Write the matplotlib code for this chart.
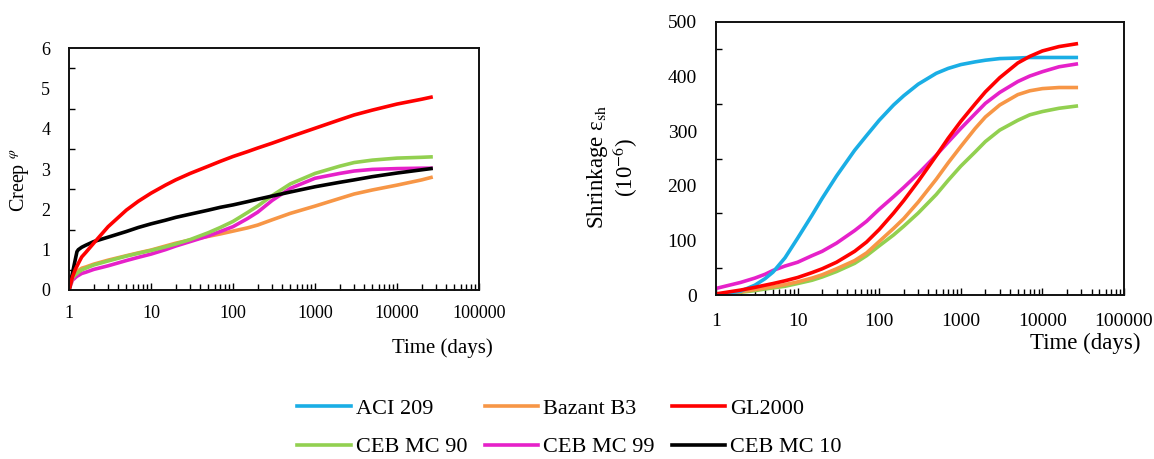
import matplotlib
matplotlib.use("Agg")
import matplotlib.pyplot as plt
from matplotlib.lines import Line2D
from matplotlib.ticker import LogLocator, MultipleLocator, NullFormatter, FixedLocator, FixedFormatter

plt.rcParams['font.family'] = ['Liberation Serif', 'DejaVu Serif']
plt.rcParams['mathtext.fontset'] = 'stix'

# ---------------- data ----------------
creep_days = [1, 1.1, 1.2, 1.25, 1.3, 1.43, 1.6, 2, 3, 5, 7, 10, 15, 20, 30, 50, 70, 100,
              150, 200, 300, 500, 1000, 2000, 3000, 5000, 10000, 20000, 26000]
creep_gl2000 = [0, 0.32, 0.52, 0.59, 0.66, 0.82, 0.93, 1.16, 1.57, 1.98, 2.20, 2.40, 2.60, 2.73, 2.89,
                3.07, 3.19, 3.31, 3.43, 3.52, 3.64, 3.80, 4.01, 4.22, 4.34, 4.46, 4.61, 4.73, 4.78]
creep_mc10 = [0, 0.41, 0.78, 0.95, 1.00, 1.06, 1.11, 1.20, 1.31, 1.45, 1.55, 1.64, 1.73, 1.80, 1.88,
              1.98, 2.05, 2.11, 2.19, 2.25, 2.33, 2.43, 2.56, 2.67, 2.73, 2.81, 2.90, 2.98, 3.01]
creep_mc90 = [0, 0.30, 0.38, 0.41, 0.44, 0.50, 0.54, 0.62, 0.72, 0.84, 0.91, 0.98, 1.07, 1.14, 1.25,
              1.42, 1.55, 1.70, 1.92, 2.08, 2.34, 2.63, 2.89, 3.07, 3.16, 3.22, 3.27, 3.29, 3.30]
creep_mc99 = [0, 0.24, 0.31, 0.34, 0.36, 0.41, 0.44, 0.51, 0.60, 0.73, 0.81, 0.89, 1.00, 1.09, 1.20,
              1.34, 1.45, 1.57, 1.77, 1.93, 2.22, 2.52, 2.77, 2.89, 2.95, 2.99, 3.01, 3.02, 3.02]
creep_b3 = [0, 0.36, 0.43, 0.46, 0.48, 0.54, 0.57, 0.64, 0.74, 0.85, 0.92, 0.99, 1.09, 1.16, 1.24,
            1.33, 1.39, 1.46, 1.54, 1.61, 1.74, 1.90, 2.08, 2.27, 2.38, 2.48, 2.60, 2.73, 2.79]

shr_days = [1, 2, 3, 4, 5, 7, 10, 15, 20, 30, 50, 70, 100, 150, 200, 300, 500, 700, 1000,
            1500, 2000, 3000, 5000, 7000, 10000, 16000, 26000]
shr_aci209 = [0, 7, 18, 30, 42, 68, 104, 146, 177, 218, 265, 292, 320, 348, 365, 386, 406, 415, 422,
              427, 430, 433, 434, 435, 435, 435, 435]
shr_gl2000 = [2, 9, 14, 18, 21, 26, 32, 41, 48, 60, 80, 97, 120, 150, 173, 208, 255, 287, 318,
              350, 372, 398, 425, 437, 447, 455, 460]
shr_mc99 = [12, 23, 31, 38, 45, 53, 60, 72, 80, 95, 118, 135, 157, 180, 197, 222, 256, 280, 305,
            332, 351, 371, 391, 401, 409, 418, 423]
shr_b3 = [1, 6, 10, 13, 15, 19, 24, 31, 37, 48, 63, 77, 98, 122, 140, 170, 212, 242, 272,
          305, 326, 348, 367, 374, 378, 380, 380]
shr_mc90 = [0, 5, 8, 11, 13, 16, 21, 27, 33, 43, 58, 72, 90, 110, 126, 150, 184, 210, 236,
            262, 281, 302, 320, 330, 336, 342, 346]

model_names = ['ACI 209', 'Bazant B3', 'GL2000', 'CEB MC 90', 'CEB MC 99', 'CEB MC 10']
model_colors = ['#1aaee5', '#f79646', '#ff0000', '#92d050', '#e621c9', '#000000']
x_ticks = [1, 10, 100, 1000, 10000, 100000]
x_ticklabels = ['1', '10', '100', '1000', '10000', '100000']

col = dict(zip(model_names, model_colors))
LW = 2.6

fig = plt.figure(figsize=(11.54, 4.59), dpi=100)
ax1 = fig.add_axes([69 / 1154, 1 - 290 / 459, 410 / 1154, 242 / 459])
ax2 = fig.add_axes([716 / 1154, 1 - 295 / 459, 408 / 1154, 273 / 459])


def style(ax, ymax, ymajor, yminor, lsize, xpad, ypad):
    ax.set_xscale('log')
    ax.set_xlim(1, 100000)
    ax.set_ylim(0, ymax)
    ax.xaxis.set_major_locator(FixedLocator(x_ticks))
    ax.xaxis.set_major_formatter(FixedFormatter(x_ticklabels))
    ax.xaxis.set_minor_locator(LogLocator(base=10, subs=range(2, 10), numticks=20))
    ax.xaxis.set_minor_formatter(NullFormatter())
    ax.yaxis.set_major_locator(MultipleLocator(ymajor))
    ax.yaxis.set_minor_locator(MultipleLocator(yminor))
    ax.tick_params(which='both', direction='in', top=False, right=False,
                   labelsize=lsize, colors='black', width=1.0)
    ax.tick_params(axis='x', which='major', length=5, pad=xpad)
    ax.tick_params(axis='x', which='minor', length=4)
    ax.tick_params(axis='y', which='major', length=0, pad=ypad)
    ax.tick_params(axis='y', which='minor', length=4)
    for s in ax.spines.values():
        s.set_linewidth(1.4)
        s.set_color('#111111')


style(ax1, 6, 1, 0.5, 13, 11, 13.5)
style(ax2, 500, 100, 50, 14, 13, 13.7)

ax1.plot(creep_days, creep_b3, color=col['Bazant B3'], lw=LW)
ax1.plot(creep_days, creep_mc99, color=col['CEB MC 99'], lw=LW)
ax1.plot(creep_days, creep_mc90, color=col['CEB MC 90'], lw=LW)
ax1.plot(creep_days, creep_mc10, color=col['CEB MC 10'], lw=LW)
ax1.plot(creep_days, creep_gl2000, color=col['GL2000'], lw=LW)

ax2.plot(shr_days, shr_mc90, color=col['CEB MC 90'], lw=LW)
ax2.plot(shr_days, shr_b3, color=col['Bazant B3'], lw=LW)
ax2.plot(shr_days, shr_mc99, color=col['CEB MC 99'], lw=LW)
ax2.plot(shr_days, shr_aci209, color=col['ACI 209'], lw=LW)
ax2.plot(shr_days, shr_gl2000, color=col['GL2000'], lw=LW)

ax1.set_xlabel('Time (days)', fontsize=15)
ax1.xaxis.set_label_coords(0.91, -0.24)
ax1.xaxis.label.set_va('center')
ax1.set_ylabel(r'Creep $^{\varphi}$', fontsize=14.5)
ax1.yaxis.set_label_coords(-0.12, 0.455)
ax1.yaxis.label.set_va('center')

ax2.set_xlabel('Time (days)', fontsize=16.5)
ax2.xaxis.set_label_coords(0.904, -0.176)
ax2.xaxis.label.set_va('center')
ax2.set_ylabel('Shrinkage ε$_{\\mathrm{sh}}$\n(10$^{-6}$)', fontsize=16.5, linespacing=1.05)
ax2.yaxis.set_label_coords(-0.254, 0.469)
ax2.yaxis.label.set_va('center')

order = ['ACI 209', 'CEB MC 90', 'Bazant B3', 'CEB MC 99', 'GL2000', 'CEB MC 10']
handles = [Line2D([], [], color=col[n], lw=LW) for n in order]
fig.legend(handles, order, loc='center', bbox_to_anchor=(0.4935, 0.0675), ncol=3,
           frameon=False, fontsize=16, handlelength=2.4, handletextpad=0.23,
           columnspacing=0.77, labelspacing=0.8, borderpad=0.2)

fig.savefig('out.png', dpi=100)
